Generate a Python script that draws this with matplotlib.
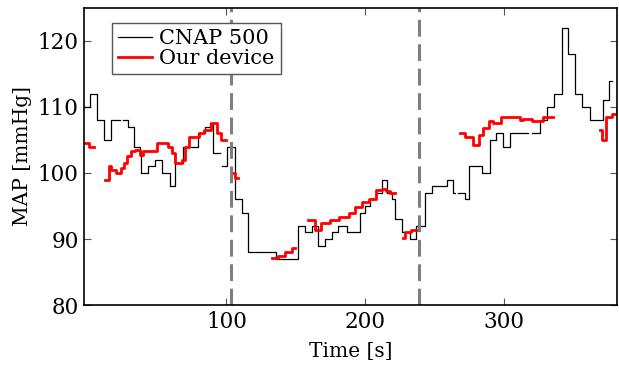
import numpy as np
import matplotlib
matplotlib.use("Agg")
import matplotlib.pyplot as plt

nan = np.nan

# CNAP 500 (change points, step-wise)
cnap_t = [-2.6, 1.5, 7, 12, 16.5, 23, 25.5, 29, 33.5, 37.5, 38.5, 43.5, 48.5, 53.2, 59, 63,
          68.5, 79.5, 84.5, 88, 90.5, 95, 96.5, 100.5, 106, 111, 115.5, 136, 151.5, 156.5,
          161.4, 166, 171, 175.8, 180.5, 186.6, 196, 199.8, 203.4, 208, 211.8, 216, 219,
          221.5, 226.5, 232, 237, 243, 248, 258.7, 263, 264.7, 267, 272, 275, 284.5, 290,
          294.7, 299.5, 304.5, 317.5, 320, 326, 330.8, 336, 341.6, 346.5, 351.5, 356.5, 362,
          371.5, 376, 378]
cnap_v = [110, 112, 108, 105, 108, nan, 108, 107, 104, 103, 100, 101, 102, 100, 98, 101.5,
          104, 106, 107, 107.5, 103, nan, 101, 104, 96, 94, 88, 87, 92, 91,
          92, 89, 90, 91, 92, 91, 94, 95, 96, 97, 99, 97, 96,
          93, 91, 90, 92, 97, 98, 99, 97, nan, 97, 96, 101, 100, 105,
          106, 104, 106, nan, 106, 108, 110, 112, 122, 118, 112, 110, 108,
          111, 114, 114]

# Our device (change points, step-wise, NaN = no estimate)
dev_t = [-2.6, 1, 4.5, 12.3, 15, 17, 20, 24, 26, 28, 31, 34, 38, 40, 44, 50, 58, 61, 63, 68,
         70, 73, 76, 80, 84, 89, 93, 96, 100,
         103.7, 106, 108.5,
         132.5, 137, 142, 147, 149.5,
         158.5, 164, 168.5, 175, 181, 184, 188, 193, 198, 203, 208, 212, 215, 218, 221.5,
         227, 229, 233, 237.5,
         268.3, 272, 278, 282, 285, 289, 292, 298, 312, 313.5, 320, 328, 335.5,
         369.2, 370.5, 373.5, 378, 381.7]
dev_v = [104.5, 104, nan, 99, 101, 100.5, 100, 100.7, 101.5, 102.5, 103.3, 103.5, 102.7, 103.3,
         103.3, 104.5, 104, 103, 101.5, 102, 104, 105.5, 105.5, 106, 106.5, 107.5, 106, 105, nan,
         100, 99.3, nan,
         87.1, 87.5, 88, 88.7, nan,
         92.9, 91.4, 92.4, 92.9, 93.4, 93.4, 93.9, 94.8, 95.6, 96, 97.4, 97.6, 97.2, 96.9, nan,
         90.1, 91.1, 91.3, nan,
         106, 105.5, 104.2, 105.7, 106.8, 107.8, 107.5, 108.4, 108, 108.2, 107.8, 108.5, nan,
         106.5, 105, 108.5, 109, 109.5]

event_times = [103, 238.5]

plt.rcParams['font.family'] = ['DejaVu Serif']
fig = plt.figure(figsize=(6.19, 3.73), dpi=100)
ax = fig.add_axes([0.136, 0.182, 0.861, 0.797])

ax.plot(cnap_t, cnap_v, color='black', lw=0.9, drawstyle='steps-post', label='CNAP 500')
ax.plot(dev_t, dev_v, color='red', lw=2.0, drawstyle='steps-post', label='Our device')
for et in event_times:
    ax.axvline(et, color='#7f7f7f', lw=2.2, ls=(0, (5.5, 2.5)))

ax.set_xlim(-2.6, 381.7)
ax.set_ylim(80, 125)
ax.set_xticks([100, 200, 300])
ax.set_yticks([80, 90, 100, 110, 120])
ax.tick_params(direction='in', top=True, right=True, labelsize=15.5, length=5, width=0.8,
               colors='#555555', labelcolor='black', pad=4)
for s in ax.spines.values():
    s.set_linewidth(1.2)
ax.set_xlabel('Time [s]', fontsize=14.5, labelpad=7)
ax.set_ylabel('MAP [mmHg]', fontsize=14.5, labelpad=4)

leg = ax.legend(loc='upper left', bbox_to_anchor=(0.0525, 0.95), borderaxespad=0,
                fancybox=False, fontsize=15, handlelength=1.6, borderpad=0.3,
                labelspacing=0.05, handletextpad=0.35, framealpha=1)
leg.get_frame().set_edgecolor('#555555')
leg.get_frame().set_linewidth(1.0)

fig.savefig('out.png', dpi=100)
